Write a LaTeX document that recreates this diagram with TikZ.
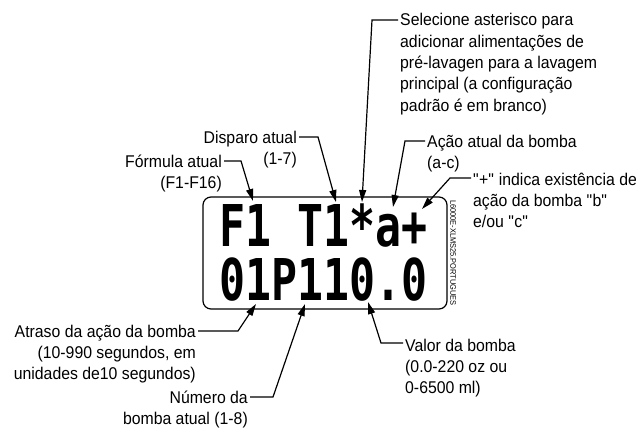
\documentclass[tikz,border=0pt]{standalone}
\usepackage{fontspec}
\setmainfont{Liberation Sans}[FakeStretch=0.93]
\newfontfamily\lcdfont{DejaVu Sans Mono}[FakeStretch=0.75]
\usetikzlibrary{positioning,arrows.meta,calc}
\newcommand{\qq}[1]{\textquotedbl#1\textquotedbl}

\begin{document}
\begin{tikzpicture}[x=1pt,y=1pt,
          lbl/.style={inner sep=0pt,font=\fontsize{17}{21.3}\selectfont},
          lcdrow/.style={inner sep=0pt,anchor=base west,
            font=\lcdfont\bfseries\fontsize{57.6}{60}\selectfont},
          lead/.style={line width=1.2pt,
            -{Triangle[length=12pt,width=7pt]}}]
        \useasboundingbox (0,0) rectangle (636,432);

        % display
        \draw[line width=1.2pt,rounded corners=8pt]
          (203,123) rectangle (447,235);
        \node[lcdrow] (row1) at (219,186) {F1 T1*a+};
        \node[lcdrow] (row2) at (219,132) {01P110.0};
        \node[inner sep=0pt,rotate=-90,font=\fontsize{8}{8}\selectfont]
          (code) at (453,179) {L6000E-XLMS25.PORTUGUES};

        % arrow tips on the display
        \coordinate (tipSel) at (362,230);
        \coordinate (tipDisp) at (336,230);
        \coordinate (tipForm) at (253,231);
        \coordinate (tipAcao) at (393,225);
        \coordinate (tipPlus) at (422,223);
        \coordinate (tipAtr) at (256,128);
        \coordinate (tipNum) at (305,128);
        \coordinate (tipVal) at (368,130);

        % labels (base = baseline of the last line)
        \node[lbl,anchor=base west,align=left] (sel) at (400,320.8)
          {Selecione asterisco para\\adicionar alimentações de\\
           pré-lavagen para a lavagem\\principal (a configuração\\
           padrão é em branco)};
        \node[lbl,anchor=base east,align=right] (disp) at (297,267.7)
          {Disparo atual\\(1-7)};
        \node[lbl,anchor=base east,align=right] (form) at (222,243.7)
          {Fórmula atual\\(F1-F16)};
        \node[lbl,anchor=base west,align=left] (acao) at (427,263.7)
          {Ação atual da bomba\\(a-c)};
        \node[lbl,anchor=base west,align=left] (plus) at (473,204.4)
          {\qq{+} indica existência de\\ação da bomba \qq{b}\\e/ou \qq{c}};
        \node[lbl,anchor=base east,align=right] (atr) at (196,52.4)
          {Atraso da ação da bomba\\(10-990 segundos, em\\
           unidades de10 segundos)};
        \node[lbl,anchor=base east,align=right] (num) at (248,7.7)
          {Número da\\bomba atual (1-8)};
        \node[lbl,anchor=base west,align=left] (val) at (405,38.4)
          {Valor da bomba\\(0.0-220 oz ou\\0-6500 ml)};

        % leaders
        \draw[lead] ([shift={(-2,91.2)}]sel.base west) -- ++(-26,0) -- (tipSel);
        \draw[lead] ([shift={(2,27.3)}]disp.base east) -- ++(19,0) -- (tipDisp);
        \draw[lead] ([shift={(2,27.3)}]form.base east) -- ++(17,0) -- (tipForm);
        \draw[lead] ([shift={(-2,27.3)}]acao.base west) -- ++(-20,0) -- (tipAcao);
        \draw[lead] ([shift={(-2,49.6)}]plus.base west) -- ++(-21,0) -- (tipPlus);
        \draw[lead] ([shift={(2,48.6)}]atr.base east) -- ++(40,0) -- (tipAtr);
        \draw[lead] ([shift={(2,27.3)}]num.base east) -- ++(23,0) -- (tipNum);
        \draw[lead] ([shift={(-2,50.6)}]val.base west) -- ++(-22,0) -- (tipVal);

      \end{tikzpicture}
\end{document}
